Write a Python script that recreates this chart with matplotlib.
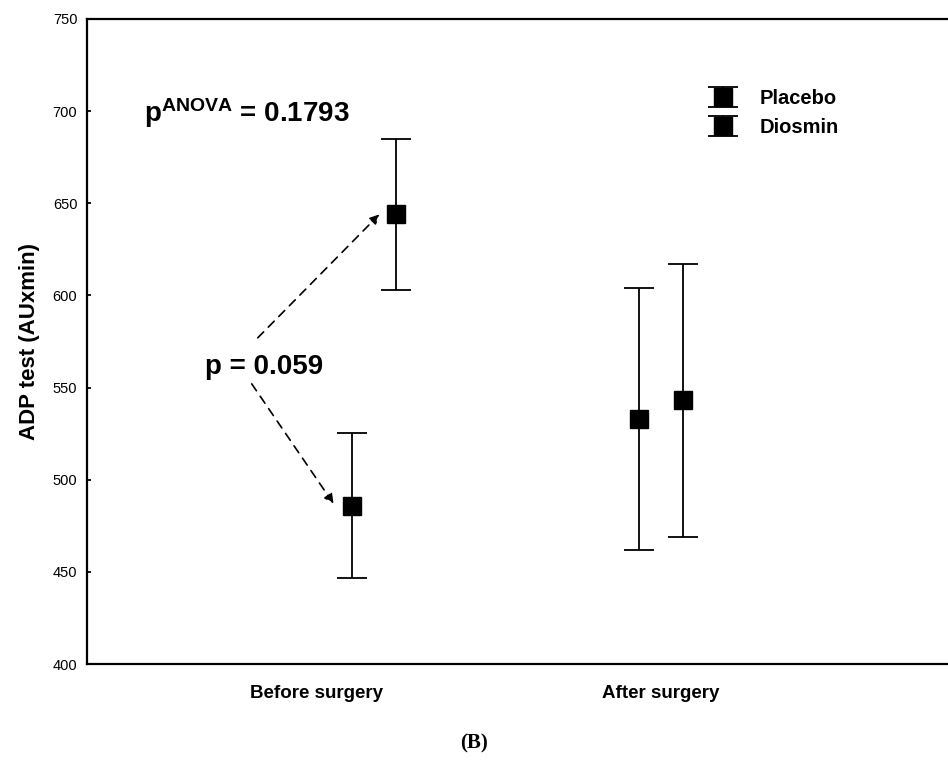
import numpy as np
import matplotlib
matplotlib.use('Agg')
import matplotlib.pyplot as plt

# data
groups = ['Before surgery', 'After surgery']
placebo_mean = [486, 533]
placebo_err = [39.5, 71]
diosmin_mean = [644, 543]
diosmin_err = [41, 74]
yticks = [400, 450, 500, 550, 600, 650, 700, 750]

plt.rcParams['font.family'] = ['Liberation Sans', 'DejaVu Sans']
plt.rcParams['mathtext.fontset'] = 'custom'
plt.rcParams['mathtext.bf'] = 'Liberation Sans:bold'
plt.rcParams['mathtext.rm'] = 'Liberation Sans'

fig = plt.figure(figsize=(9.48, 7.63), dpi=100)
ax = fig.add_axes([87/948, 1 - 664/763, 861/948, (664 - 19)/763])

centers = np.array([1.0, 2.0])
off = 0.075

# error bars
eb_kw = dict(fmt='s', color='black', ecolor='black', markersize=13.5,
             elinewidth=1.3, capsize=11, capthick=1.3)
ax.errorbar(centers - off, placebo_mean, yerr=placebo_err, label='Placebo', **eb_kw)
ax.errorbar(centers + off, diosmin_mean, yerr=diosmin_err, label='Diosmin', **eb_kw)

# axes setup
ax.set_xlim(0, 3)
ax.set_ylim(400, 750)
ax.set_yticks(yticks)
ax.set_yticklabels([str(t) for t in yticks], fontsize=10.5)
ax.tick_params(axis='y', direction='in', length=3, width=1.3, pad=7)
ax.set_xticks([0.8, 2.0])
ax.set_xticklabels(groups, fontsize=13.5, fontweight='bold')
ax.tick_params(axis='x', length=0, pad=15)
for s in ax.spines.values():
    s.set_linewidth(1.6)
ax.spines['right'].set_visible(False)
ax.set_ylabel('ADP test (AUxmin)', fontsize=16, fontweight='bold', labelpad=9)

# annotations
ax.text(0.20, 694, r'$\mathbf{p^{ANOVA}}$ = 0.1793', fontsize=20, fontweight='bold',
        va='baseline', ha='left')
ax.text(0.41, 561, 'p = 0.059', fontsize=20, fontweight='bold', va='center', ha='left')
arrow_kw = dict(arrowstyle='-|>', linestyle=(0, (5, 4)), color='black', lw=1.2,
                mutation_scale=14, shrinkA=0, shrinkB=0)
ax.annotate('', xy=(1.019, 644), xytext=(0.595, 577), arrowprops=arrow_kw)
ax.annotate('', xy=(0.859, 487), xytext=(0.574, 552), arrowprops=arrow_kw)

leg = ax.legend(loc='upper left', bbox_to_anchor=(0.69, 0.92), frameon=False,
                prop={'weight': 'bold', 'size': 14.5}, handlelength=2.4,
                handletextpad=0.6, labelspacing=0.5)

fig.text(0.5, 1 - 743/763, '(B)', ha='center', va='center', fontsize=15,
         fontweight='bold', family='Liberation Serif')

fig.savefig('out.png', dpi=100)
